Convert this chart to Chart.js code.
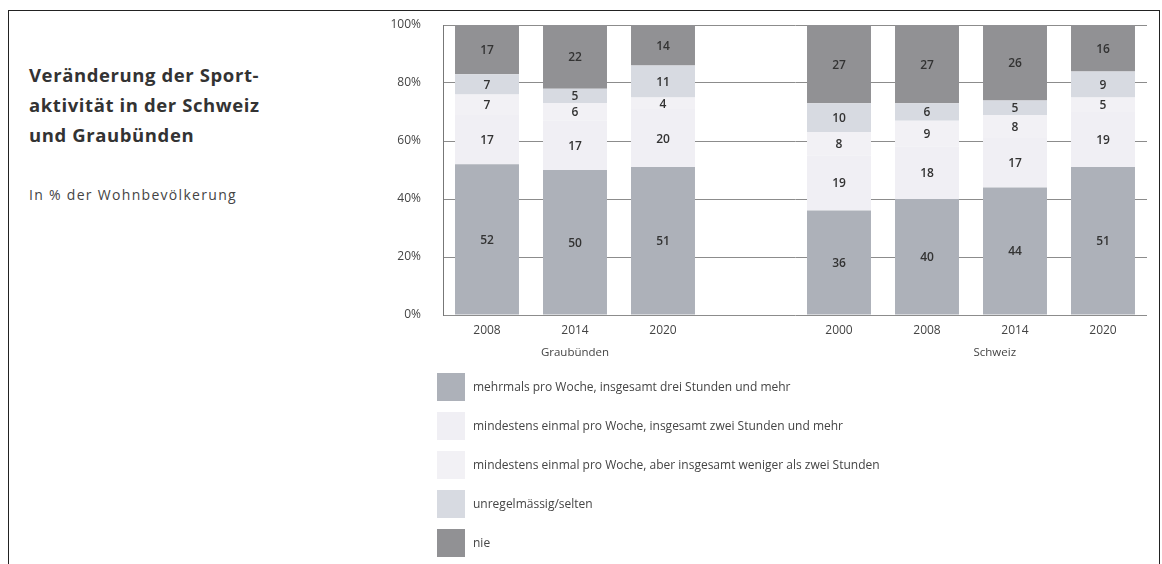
<!DOCTYPE html>
<html>
<head>
<meta charset="utf-8">
<script src="https://cdn.jsdelivr.net/npm/chart.js@4.4.1/dist/chart.umd.min.js"></script>
<style>
  html, body { margin: 0; padding: 0; background: #fff; }
  body { width: 1162px; height: 564px; position: relative; overflow: hidden; font-family: "Open Sans", sans-serif; }
  #frame { position: absolute; left: 8px; top: 10px; width: 1152px; height: 600px; border-top: 1.5px solid #222; border-left: 1.5px solid #222; border-right: 1.5px solid #222; box-sizing: border-box; }
  #title { position: absolute; left: 29px; top: 60px; font-size: 18.5px; font-weight: 700; line-height: 30px; color: #333; letter-spacing: 0.6px; }
  #subtitle { position: absolute; left: 29px; top: 185px; font-size: 14px; color: #444; letter-spacing: 1.3px; }
  #wrap { position: absolute; left: 0; top: 0; width: 1162px; height: 564px; }
  #legend { position: absolute; left: 437px; top: 373px; }
  .row { position: relative; height: 39px; }
  .box { position: absolute; left: 0; top: 0; width: 28px; height: 28px; }
  .lab { position: absolute; left: 36px; top: 5px; font-size: 12px; color: #444; white-space: nowrap; }
</style>
</head>
<body>
<div id="frame"></div>
<div id="title">Veränderung der Sport-<br>aktivität in der Schweiz<br>und Graubünden</div>
<div id="subtitle">In % der Wohnbevölkerung</div>
<div id="wrap"><canvas id="c" width="1162" height="564"></canvas></div>
<div id="legend"></div>
<script>
// ---- data ----
const categories = ["2008", "2014", "2020", "", "2000", "2008", "2014", "2020"];
const groups = [
  { label: "Graubünden", at: 1 },
  { label: "Schweiz", at: 5.77 }
];
const seriesNames = [
  "mehrmals pro Woche, insgesamt drei Stunden und mehr",
  "mindestens einmal pro Woche, insgesamt zwei Stunden und mehr",
  "mindestens einmal pro Woche, aber insgesamt weniger als zwei Stunden",
  "unregelmässig/selten",
  "nie"
];
const mehrmals      = [52, 50, 51, null, 36, 40, 44, 51];
const zweiStunden   = [17, 17, 20, null, 19, 18, 17, 19];
const wenigerZwei   = [7, 6, 4, null, 8, 9, 8, 5];
const unregelmaessig= [7, 5, 11, null, 10, 6, 5, 9];
const nie           = [17, 22, 14, null, 27, 27, 26, 16];
const yTicks = [0, 20, 40, 60, 80, 100];

const seriesValues = [mehrmals, zweiStunden, wenigerZwei, unregelmaessig, nie];
const colors = ["#adb1b9", "#f0eff4", "#f2f1f5", "#d7dae1", "#919194"];

// legend (HTML)
const leg = document.getElementById('legend');
seriesNames.forEach((n, i) => {
  const r = document.createElement('div'); r.className = 'row';
  r.innerHTML = '<div class="box" style="background:' + colors[i] + '"></div><div class="lab">' + n + '</div>';
  leg.appendChild(r);
});

const valueLabels = {
  id: 'valueLabels',
  afterDatasetsDraw(chart) {
    const ctx = chart.ctx;
    ctx.save();
    ctx.font = '600 12px "Open Sans", sans-serif';
    ctx.fillStyle = '#333';
    ctx.textAlign = 'center';
    ctx.textBaseline = 'middle';
    chart.data.datasets.forEach((ds, di) => {
      const meta = chart.getDatasetMeta(di);
      meta.data.forEach((bar, i) => {
        const v = ds.data[i];
        if (v == null) return;
        const cy = (bar.y + bar.base) / 2;
        ctx.fillText(String(v), bar.x, cy + 1);
      });
    });
    ctx.restore();
  }
};

const groupLabels = {
  id: 'groupLabels',
  afterDraw(chart) {
    const ctx = chart.ctx;
    const xs = chart.scales.x;
    ctx.save();
    ctx.font = '11.5px "Open Sans", sans-serif';
    ctx.fillStyle = '#444';
    ctx.textAlign = 'center';
    ctx.textBaseline = 'middle';
    groups.forEach(g => {
      ctx.fillText(g.label, xs.getPixelForValue(g.at), chart.chartArea.bottom + 38);
    });
    ctx.restore();
  }
};

new Chart(document.getElementById('c'), {
  type: 'bar',
  data: {
    labels: categories,
    datasets: seriesValues.map((d, i) => ({
      label: seriesNames[i],
      data: d,
      backgroundColor: colors[i],
      borderWidth: 0,
      barPercentage: 0.727,
      categoryPercentage: 1.0
    }))
  },
  options: {
    responsive: false,
    animation: false,
    layout: { padding: { left: 360, right: 15, top: 25, bottom: 0 } },
    plugins: { legend: { display: false }, tooltip: { enabled: false } },
    scales: {
      x: {
        stacked: true,
        grid: { display: false, drawTicks: false },
        border: { display: false },
        ticks: { color: '#444', font: { family: 'Open Sans', size: 12 }, padding: 8, maxRotation: 0 },
        afterFit(s) { s.height = 249; s.paddingLeft = 0; s.paddingRight = 0; }
      },
      y: {
        stacked: true,
        min: 0, max: 100,
        afterBuildTicks(s) { s.ticks = yTicks.map(v => ({ value: v })); },
        grid: { color: '#8c8c8c', lineWidth: 1, drawTicks: false },
        border: { display: true, color: '#777', width: 1 },
        ticks: { color: '#444', font: { family: 'Open Sans', size: 12 }, padding: 22, callback: v => v + '%' },
        afterFit(s) { s.width = 83; s.paddingTop = 0; s.paddingBottom = 0; }
      }
    }
  },
  plugins: [valueLabels, groupLabels]
});
</script>
</body>
</html>
